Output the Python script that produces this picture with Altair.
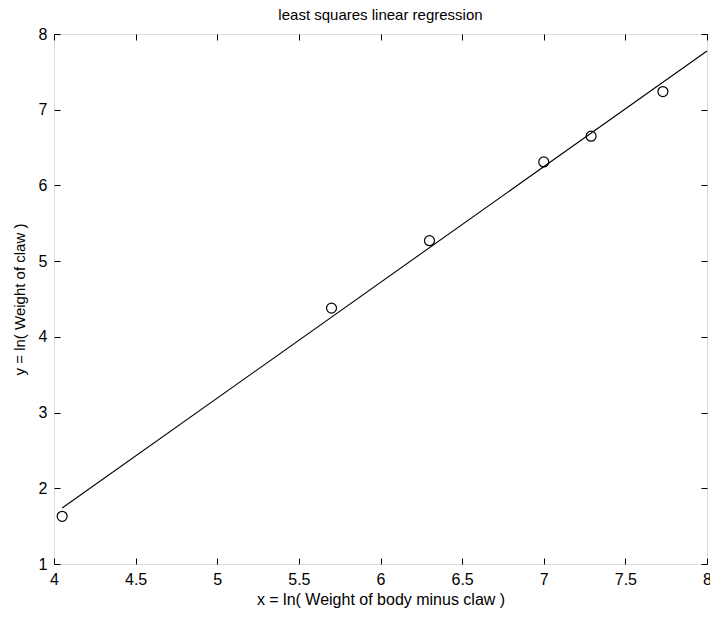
import altair as alt
import pandas as pd

# data
x_vals = [4.05, 5.70, 6.30, 7.00, 7.29, 7.73]
y_vals = [1.63, 4.38, 5.27, 6.31, 6.65, 7.24]
x_ticks = [4, 4.5, 5, 5.5, 6, 6.5, 7, 7.5, 8]
y_ticks = [1, 2, 3, 4, 5, 6, 7, 8]
line_extent = [4.05, 8.0]

df = pd.DataFrame({"x": x_vals, "y": y_vals})

FONT = "Liberation Sans"
TICK = 6

xs = alt.Scale(domain=[4, 8], nice=False, zero=False)
ys = alt.Scale(domain=[1, 8], nice=False, zero=False)

x_axis_main = alt.Axis(
    values=x_ticks, format="~g", orient="bottom", offset=-TICK, tickSize=TICK,
    domain=False, grid=False, labelPadding=7, tickColor="black", labelColor="black",
    labelFont=FONT, labelFontSize=16, labelFlush=False, labelOverlap=False,
    title="x = ln( Weight of body minus claw  )",
    titleFont=FONT, titleFontSize=16, titleFontWeight="normal", titleColor="black",
    titlePadding=4,
)
y_axis_main = alt.Axis(
    values=y_ticks, format="~g", orient="left", offset=-TICK, tickSize=TICK,
    domain=False, grid=False, labelPadding=7, tickColor="black", labelColor="black",
    labelFont=FONT, labelFontSize=16, labelFlush=False, labelOverlap=False,
    title="y = ln( Weight of claw  )",
    titleFont=FONT, titleFontSize=15, titleFontWeight="normal", titleColor="black",
    titlePadding=11,
)
x_axis_top = alt.Axis(values=x_ticks, orient="top", offset=-TICK, tickSize=TICK,
                      domain=False, grid=False, labels=False, title=None, tickColor="black")
y_axis_right = alt.Axis(values=y_ticks, orient="right", offset=-TICK, tickSize=TICK,
                        domain=False, grid=False, labels=False, title=None, tickColor="black")

points = alt.Chart(df).mark_point(
    shape="circle", filled=False, color="black", size=100, strokeWidth=1.2, opacity=1
).encode(
    x=alt.X("x:Q", scale=xs, axis=x_axis_main),
    y=alt.Y("y:Q", scale=ys, axis=y_axis_main),
)

line = alt.Chart(df).transform_regression(
    "x", "y", extent=line_extent
).mark_line(color="black", strokeWidth=1.1).encode(
    x=alt.X("x:Q", scale=xs, axis=x_axis_top),
    y=alt.Y("y:Q", scale=ys, axis=y_axis_right),
)

chart = alt.layer(points, line).resolve_axis(x="independent", y="independent").properties(
    width=653,
    height=530,
    autosize=alt.AutoSizeParams(type="none"),
    padding={"left": 54, "top": 34, "right": 3, "bottom": 54},
    title=alt.TitleParams(
        "least squares linear regression", font=FONT, fontSize=15, fontWeight="normal",
        color="black", frame="group", anchor="middle", offset=3,
    ),
).configure_view(stroke="black", strokeWidth=1.2).configure(background="white")

chart.save("out.html", embed_options={"renderer": "svg", "actions": False})
